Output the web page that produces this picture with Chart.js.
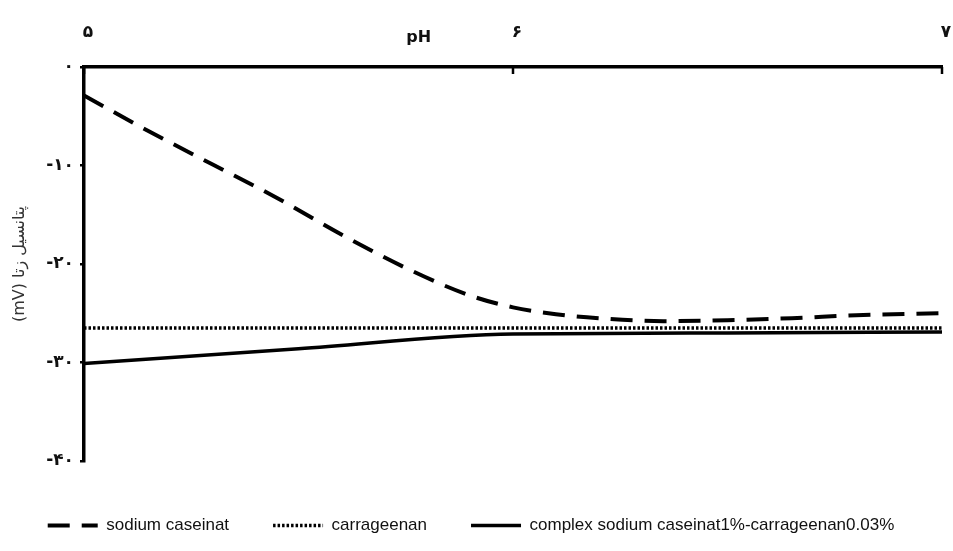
<!DOCTYPE html>
<html>
<head>
<meta charset="utf-8">
<script src="https://cdn.jsdelivr.net/npm/chart.js@4.4.1/dist/chart.umd.min.js"></script>
<style>
  html, body { margin: 0; padding: 0; background: #ffffff; }
  #wrap { width: 953px; height: 551px; }
</style>
</head>
<body>
<div id="wrap"><canvas id="c" width="953" height="551"></canvas></div>
<script>
// ---- data ----
const caseinatPH   = [5.0, 5.15, 5.3, 5.45, 5.6, 5.75, 5.9, 6.0, 6.1, 6.2, 6.35, 6.5, 6.65, 6.8, 7.0];
const caseinatZeta = [-2.9, -6.5, -9.9, -13.3, -17.0, -20.4, -23.2, -24.4, -25.1, -25.5, -25.8, -25.7, -25.5, -25.2, -25.0];

const carrageenanPH   = [5.0, 6.0, 7.0];
const carrageenanZeta = [-26.5, -26.5, -26.5];

const complexPH   = [5.0, 5.5, 6.0, 6.5, 7.0];
const complexZeta = [-30.1, -28.6, -27.1, -27.0, -26.9];

const seriesNames = ['sodium caseinat', 'carrageenan', 'complex sodium caseinat1%-carrageenan0.03%'];

const xTicks = [5, 6, 7];
const xTickLabels = ['۵', '۶', '۷'];
const yTicks = [0, -10, -20, -30, -40];
const yTickLabels = ['۰', '-۱۰', '-۲۰', '-۳۰', '-۴۰'];

const xTitle = 'pH';
const xTitleAt = 5.78;            // pH value under which the axis title sits
const yTitle = '(mV) پتانسیل زتا';

// ---- helpers ----
const toPoints = (xs, ys) => xs.map((x, i) => ({ x: x, y: ys[i] }));

const pHTitlePlugin = {
  id: 'pHTitle',
  afterDraw(chart) {
    const xs = chart.scales.x;
    const ctx = chart.ctx;
    ctx.save();
    ctx.font = 'bold 16px "DejaVu Sans", sans-serif';
    ctx.fillStyle = '#111';
    ctx.textAlign = 'center';
    ctx.textBaseline = 'middle';
    ctx.fillText(xTitle, xs.getPixelForValue(xTitleAt), xs.top + 38);
    ctx.restore();
  }
};

// top-axis ticks in the reference point down into the plot
const inwardTicksPlugin = {
  id: 'inwardTicks',
  afterDatasetsDraw(chart) {
    const xs = chart.scales.x;
    const ctx = chart.ctx;
    ctx.save();
    ctx.strokeStyle = '#000';
    ctx.lineWidth = 2.5;
    xTicks.forEach(v => {
      const px = xs.getPixelForValue(v);
      ctx.beginPath();
      ctx.moveTo(px, xs.bottom);
      ctx.lineTo(px, xs.bottom + 7);
      ctx.stroke();
    });
    ctx.restore();
  }
};

const tickFont = { family: '"DejaVu Sans", sans-serif', size: 17, weight: 'bold' };

new Chart(document.getElementById('c'), {
  type: 'line',
  data: {
    datasets: [
      {
        label: seriesNames[0],
        data: toPoints(caseinatPH, caseinatZeta),
        borderColor: '#000',
        backgroundColor: '#000',
        borderWidth: 4,
        borderDash: [22, 12],
        pointRadius: 0,
        cubicInterpolationMode: 'monotone',
        fill: false
      },
      {
        label: seriesNames[1],
        data: toPoints(carrageenanPH, carrageenanZeta),
        borderColor: '#000',
        backgroundColor: '#000',
        borderWidth: 3.5,
        borderDash: [2.5, 2],
        pointRadius: 0,
        fill: false
      },
      {
        label: seriesNames[2],
        data: toPoints(complexPH, complexZeta),
        borderColor: '#000',
        backgroundColor: '#000',
        borderWidth: 3.5,
        pointRadius: 0,
        cubicInterpolationMode: 'monotone',
        fill: false
      }
    ]
  },
  options: {
    responsive: false,
    animation: false,
    events: [],
    layout: { padding: { top: 0, right: 11, bottom: 7, left: 0 } },
    scales: {
      x: {
        type: 'linear',
        position: 'top',
        min: 5,
        max: 7,
        afterBuildTicks(scale) { scale.ticks = xTicks.map(v => ({ value: v })); },
        afterFit(scale) { scale.height = 67; scale.paddingLeft = 0; scale.paddingRight = 0; },
        ticks: {
          color: '#111',
          font: tickFont,
          padding: 24,
          maxRotation: 0,
          labelOffset: 4,
          callback: (v) => xTickLabels[xTicks.indexOf(v)] ?? ''
        },
        grid: { display: true, drawOnChartArea: false, drawTicks: false, color: '#000', lineWidth: 2 },
        border: { display: true, color: '#000', width: 3.5 }
      },
      xPad: {
        type: 'linear',
        position: 'bottom',
        display: true,
        afterFit(scale) { scale.height = 12; scale.paddingLeft = 0; scale.paddingRight = 0; },
        ticks: { display: false },
        grid: { display: false, drawTicks: false },
        border: { display: false }
      },
      y: {
        type: 'linear',
        position: 'left',
        min: -40,
        max: 0,
        afterBuildTicks(scale) { scale.ticks = yTicks.map(v => ({ value: v })); },
        afterFit(scale) { scale.width = 84; scale.paddingTop = 0; scale.paddingBottom = 0; },
        ticks: {
          color: '#111',
          font: tickFont,
          padding: 6,
          callback: (v) => yTickLabels[yTicks.indexOf(v)] ?? ''
        },
        grid: { display: true, drawOnChartArea: false, drawTicks: true, tickLength: 4, color: '#000', lineWidth: 2.5 },
        border: { display: true, color: '#000', width: 3.5 },
        title: {
          display: true,
          text: yTitle,
          color: '#333',
          font: { family: '"DejaVu Sans", sans-serif', size: 16 },
          padding: { top: 10, bottom: 0 }
        }
      }
    },
    plugins: {
      legend: {
        display: true,
        position: 'bottom',
        labels: {
          usePointStyle: true,
          pointStyle: 'line',
          pointStyleWidth: 50,
          padding: 44,
          color: '#111',
          font: { family: '"Liberation Sans", Arial, sans-serif', size: 17 },
          generateLabels(chart) {
            const items = Chart.defaults.plugins.legend.labels.generateLabels(chart);
            return items.map(it => {
              const ds = chart.data.datasets[it.datasetIndex];
              it.lineDash = ds.borderDash || [];
              it.lineWidth = ds.borderWidth;
              it.strokeStyle = ds.borderColor;
              it.pointStyle = 'line';
              return it;
            });
          }
        }
      },
      tooltip: { enabled: false },
      title: { display: false }
    }
  },
  plugins: [pHTitlePlugin, inwardTicksPlugin]
});
</script>
</body>
</html>
